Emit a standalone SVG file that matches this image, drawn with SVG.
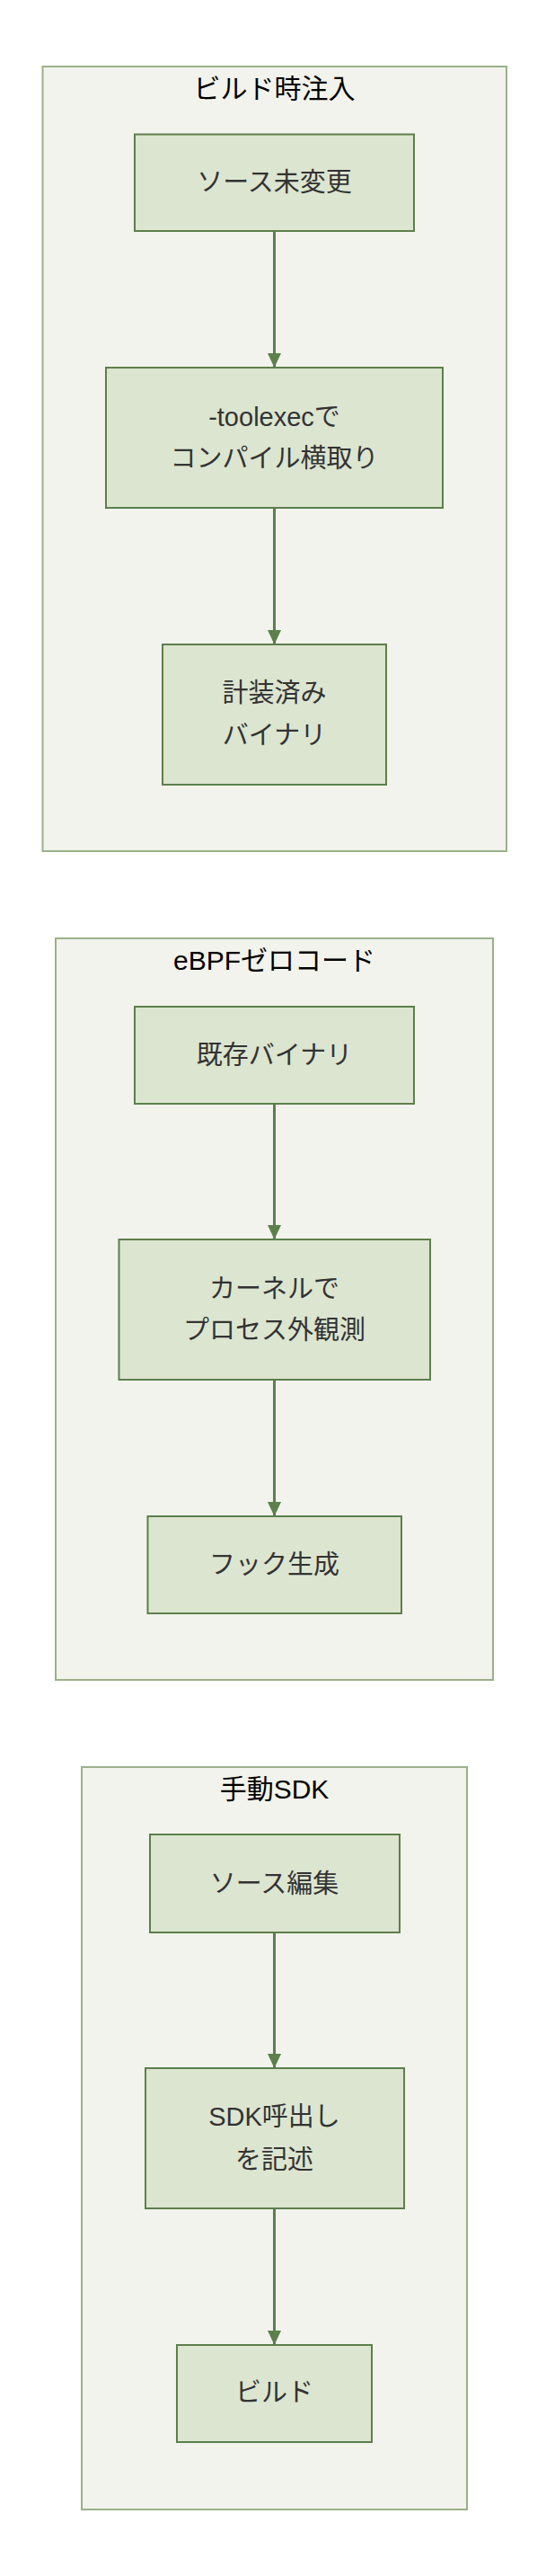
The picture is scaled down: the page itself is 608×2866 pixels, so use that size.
<svg xmlns="http://www.w3.org/2000/svg" width="608" height="2866" viewBox="0 0 608 2866">
<style>
.c{fill:#f2f3ec;stroke:#9bb08a;stroke-width:2}
.n{fill:#dce5d0;stroke:#5c7f4c;stroke-width:2}
.t{font-family:"Liberation Sans","Noto Sans CJK JP",sans-serif;font-size:29px;text-anchor:middle;dominant-baseline:central}
.tt{fill:#000;font-size:30px}
.nt{fill:#333}
.e{stroke:#5c7f4c;stroke-width:3;fill:none;marker-end:url(#a)}
</style>
<defs><marker id="a" viewBox="0 0 16 15" refX="16" refY="7.5" markerWidth="16" markerHeight="15" markerUnits="userSpaceOnUse" orient="auto"><path d="M0,0L16,7.5L0,15z" fill="#5c7f4c"/></marker></defs>
<rect fill="#fff" width="608" height="2866"/>
<g id="cluster1"><rect class="c" x="47.5" y="74" width="516.5" height="873"/><text class="t tt" x="305.5" y="98">ビルド時注入</text></g>
<g id="cluster2"><rect class="c" x="62" y="1044" width="487" height="825"/><text class="t tt" x="305.5" y="1068">eBPFゼロコード</text></g>
<g id="cluster3"><rect class="c" x="91" y="1966" width="429" height="826"/><text class="t tt" x="305.5" y="1990">手動SDK</text></g>
<g id="connectors">
<path class="e" d="M305.5,257V409"/>
<path class="e" d="M305.5,565V717"/>
<path class="e" d="M305.5,1228V1379"/>
<path class="e" d="M305.5,1535V1687"/>
<path class="e" d="M305.5,2150V2301"/>
<path class="e" d="M305.5,2457V2609"/>
</g>
<g id="n1"><rect class="n" x="150" y="149.5" width="311" height="107.5"/><text class="t nt" x="305.5" y="203">ソース未変更</text></g>
<g id="n2"><rect class="n" x="118" y="409" width="375" height="156"/><text class="t nt" x="305.5" y="464">-toolexecで</text><text class="t nt" x="305.5" y="510">コンパイル横取り</text></g>
<g id="n3"><rect class="n" x="181" y="717" width="249" height="156"/><text class="t nt" x="305.5" y="771">計装済み</text><text class="t nt" x="305.5" y="818">バイナリ</text></g>
<g id="n4"><rect class="n" x="150" y="1120" width="311" height="108"/><text class="t nt" x="305.5" y="1174">既存バイナリ</text></g>
<g id="n5"><rect class="n" x="132.5" y="1379" width="346.5" height="156"/><text class="t nt" x="305.5" y="1434">カーネルで</text><text class="t nt" x="305.5" y="1480">プロセス外観測</text></g>
<g id="n6"><rect class="n" x="164.5" y="1687" width="282.5" height="108"/><text class="t nt" x="305.5" y="1741">フック生成</text></g>
<g id="n7"><rect class="n" x="167" y="2041" width="278" height="109"/><text class="t nt" x="305.5" y="2096">ソース編集</text></g>
<g id="n8"><rect class="n" x="162" y="2301" width="288" height="156"/><text class="t nt" x="305.5" y="2355">SDK呼出し</text><text class="t nt" x="305.5" y="2403">を記述</text></g>
<g id="n9"><rect class="n" x="197" y="2609" width="217" height="108"/><text class="t nt" x="305.5" y="2662">ビルド</text></g>
</svg>
